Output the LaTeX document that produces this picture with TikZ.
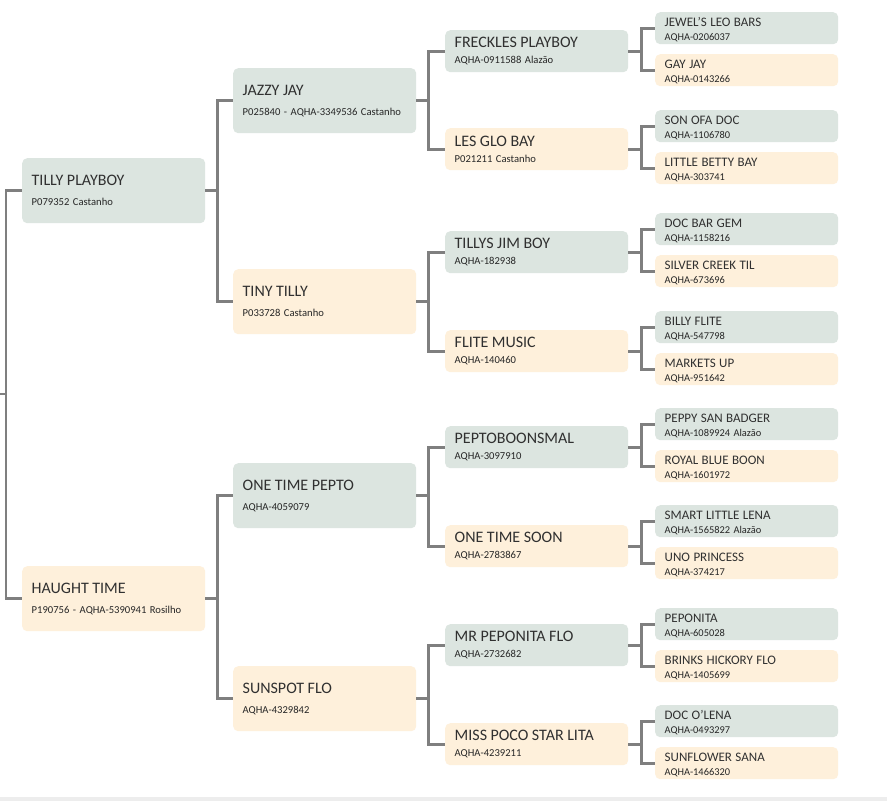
\documentclass[tikz,border=0pt]{standalone}
\usepackage{fontspec}
\setmainfont{Carlito}
\usetikzlibrary{positioning}

\definecolor{sirefill}{HTML}{DCE5E0}
\definecolor{damfill}{HTML}{FEF0DB}
\definecolor{linkgray}{HTML}{7F7F7F}
\definecolor{namegray}{HTML}{303030}
\definecolor{bandgray}{HTML}{EDEDED}
\newcommand\hname[1]{{\fontsize{\nmsize}{\the\baselineskip}\selectfont\color{namegray}\rule{0pt}{\nmstrut}#1}}

\begin{document}
\begin{tikzpicture}[x=1pt, y=-1pt,
  every node/.style={anchor=north west, rounded corners=5pt, minimum width=183pt, text width=164pt, inner xsep=9.5pt, inner ysep=0pt, align=left, text=black!85},
  sire/.style={fill=sirefill}, dam/.style={fill=damfill},
  big/.style={minimum height=65pt, font={\fontsize{10.6}{20}\selectfont\hyphenpenalty10000\def\nmsize{16}\def\nmstrut{0pt}}},
  mid/.style={minimum height=42pt, font={\fontsize{10.6}{16}\selectfont\hyphenpenalty10000\def\nmsize{16}\def\nmstrut{0pt}}},
  small/.style={minimum height=32pt, font={\fontsize{10.4}{14}\selectfont\hyphenpenalty10000\def\nmsize{13}\def\nmstrut{12.4pt}}},
  link/.style={draw=linkgray, line width=2.6pt}]
	\useasboundingbox (0,0) rectangle (887,801);
	\fill[white] (0,0) rectangle (887,801);
	\fill[bandgray] (0,797) rectangle (887,801);
	
	% parents
	\node[sire,big] (tilly) at (22,158) {\hname{TILLY PLAYBOY}\\P079352 Castanho};
	\node[dam,big] (haught) at (22,566) {\hname{HAUGHT TIME}\\P190756 - AQHA-5390941 Rosilho};
	
	% grandparents
	\node[sire,big] (jazzy) at (233,68) {\hname{JAZZY JAY}\\P025840 - AQHA-3349536 Castanho};
	\node[dam,big] (tiny) at (233,269) {\hname{TINY TILLY}\\P033728 Castanho};
	\node[sire,big] (otpepto) at (233,463) {\hname{ONE TIME PEPTO}\\AQHA-4059079};
	\node[dam,big] (sunspot) at (233,666) {\hname{SUNSPOT FLO}\\AQHA-4329842};
	
	% great-grandparents
	\node[sire,mid] (freckles) at (445,30) {\hname{FRECKLES PLAYBOY}\\AQHA-0911588 Alazão};
	\node[dam,mid] (lesglo) at (445,128) {\hname{LES GLO BAY}\\P021211 Castanho};
	\node[sire,mid] (tillysjim) at (445,231) {\hname{TILLYS JIM BOY}\\AQHA-182938};
	\node[dam,mid] (flite) at (445,330) {\hname{FLITE MUSIC}\\AQHA-140460};
	\node[sire,mid] (peptob) at (445,426) {\hname{PEPTOBOONSMAL}\\AQHA-3097910};
	\node[dam,mid] (otsoon) at (445,525) {\hname{ONE TIME SOON}\\AQHA-2783867};
	\node[sire,mid] (mrpep) at (445,624) {\hname{MR PEPONITA FLO}\\AQHA-2732682};
	\node[dam,mid] (misspoco) at (445,723) {\hname{MISS POCO STAR LITA}\\AQHA-4239211};
	
	% great-great-grandparents
	\node[sire,small] (jewels) at (655,12) {\hname{JEWEL'S LEO BARS}\\AQHA-0206037};
	\node[dam,small] (gayjay) at (655,54) {\hname{GAY JAY}\\AQHA-0143266};
	\node[sire,small] (sonofa) at (655,110) {\hname{SON OFA DOC}\\AQHA-1106780};
	\node[dam,small] (betty) at (655,152) {\hname{LITTLE BETTY BAY}\\AQHA-303741};
	\node[sire,small] (docbar) at (655,213) {\hname{DOC BAR GEM}\\AQHA-1158216};
	\node[dam,small] (silver) at (655,255) {\hname{SILVER CREEK TIL}\\AQHA-673696};
	\node[sire,small] (billy) at (655,311) {\hname{BILLY FLITE}\\AQHA-547798};
	\node[dam,small] (markets) at (655,353) {\hname{MARKETS UP}\\AQHA-951642};
	\node[sire,small] (peppy) at (655,408) {\hname{PEPPY SAN BADGER}\\AQHA-1089924 Alazão};
	\node[dam,small] (royal) at (655,450) {\hname{ROYAL BLUE BOON}\\AQHA-1601972};
	\node[sire,small] (smart) at (655,505) {\hname{SMART LITTLE LENA}\\AQHA-1565822 Alazão};
	\node[dam,small] (uno) at (655,547) {\hname{UNO PRINCESS}\\AQHA-374217};
	\node[sire,small] (peponita) at (655,608) {\hname{PEPONITA}\\AQHA-605028};
	\node[dam,small] (brinks) at (655,650) {\hname{BRINKS HICKORY FLO}\\AQHA-1405699};
	\node[sire,small] (docolena) at (655,705) {\hname{DOC O'LENA}\\AQHA-0493297};
	\node[dam,small] (sunflower) at (655,747) {\hname{SUNFLOWER SANA}\\AQHA-1466320};
	
	\coordinate (root) at (0,394);
	\draw[link] (root) -- ++(6,0) |- (tilly.west) (root) -- ++(6,0) |- (haught.west);
	
	\draw[link] (tilly.east) -- ++(12,0) |- (jazzy.west) (tilly.east) -- ++(12,0) |- (tiny.west);
	\draw[link] (haught.east) -- ++(12,0) |- (otpepto.west) (haught.east) -- ++(12,0) |- (sunspot.west);
	
	\draw[link] (jazzy.east) -- ++(12,0) |- (freckles.west) (jazzy.east) -- ++(12,0) |- (lesglo.west);
	\draw[link] (tiny.east) -- ++(12,0) |- (tillysjim.west) (tiny.east) -- ++(12,0) |- (flite.west);
	\draw[link] (otpepto.east) -- ++(12,0) |- (peptob.west) (otpepto.east) -- ++(12,0) |- (otsoon.west);
	\draw[link] (sunspot.east) -- ++(12,0) |- (mrpep.west) (sunspot.east) -- ++(12,0) |- (misspoco.west);
	
	\draw[link] (freckles.east) -- ++(13,0) |- (jewels.west) (freckles.east) -- ++(13,0) |- (gayjay.west);
	\draw[link] (lesglo.east) -- ++(13,0) |- (sonofa.west) (lesglo.east) -- ++(13,0) |- (betty.west);
	\draw[link] (tillysjim.east) -- ++(13,0) |- (docbar.west) (tillysjim.east) -- ++(13,0) |- (silver.west);
	\draw[link] (flite.east) -- ++(13,0) |- (billy.west) (flite.east) -- ++(13,0) |- (markets.west);
	\draw[link] (peptob.east) -- ++(13,0) |- (peppy.west) (peptob.east) -- ++(13,0) |- (royal.west);
	\draw[link] (otsoon.east) -- ++(13,0) |- (smart.west) (otsoon.east) -- ++(13,0) |- (uno.west);
	\draw[link] (mrpep.east) -- ++(13,0) |- (peponita.west) (mrpep.east) -- ++(13,0) |- (brinks.west);
	\draw[link] (misspoco.east) -- ++(13,0) |- (docolena.west) (misspoco.east) -- ++(13,0) |- (sunflower.west);
\end{tikzpicture}
\end{document}
